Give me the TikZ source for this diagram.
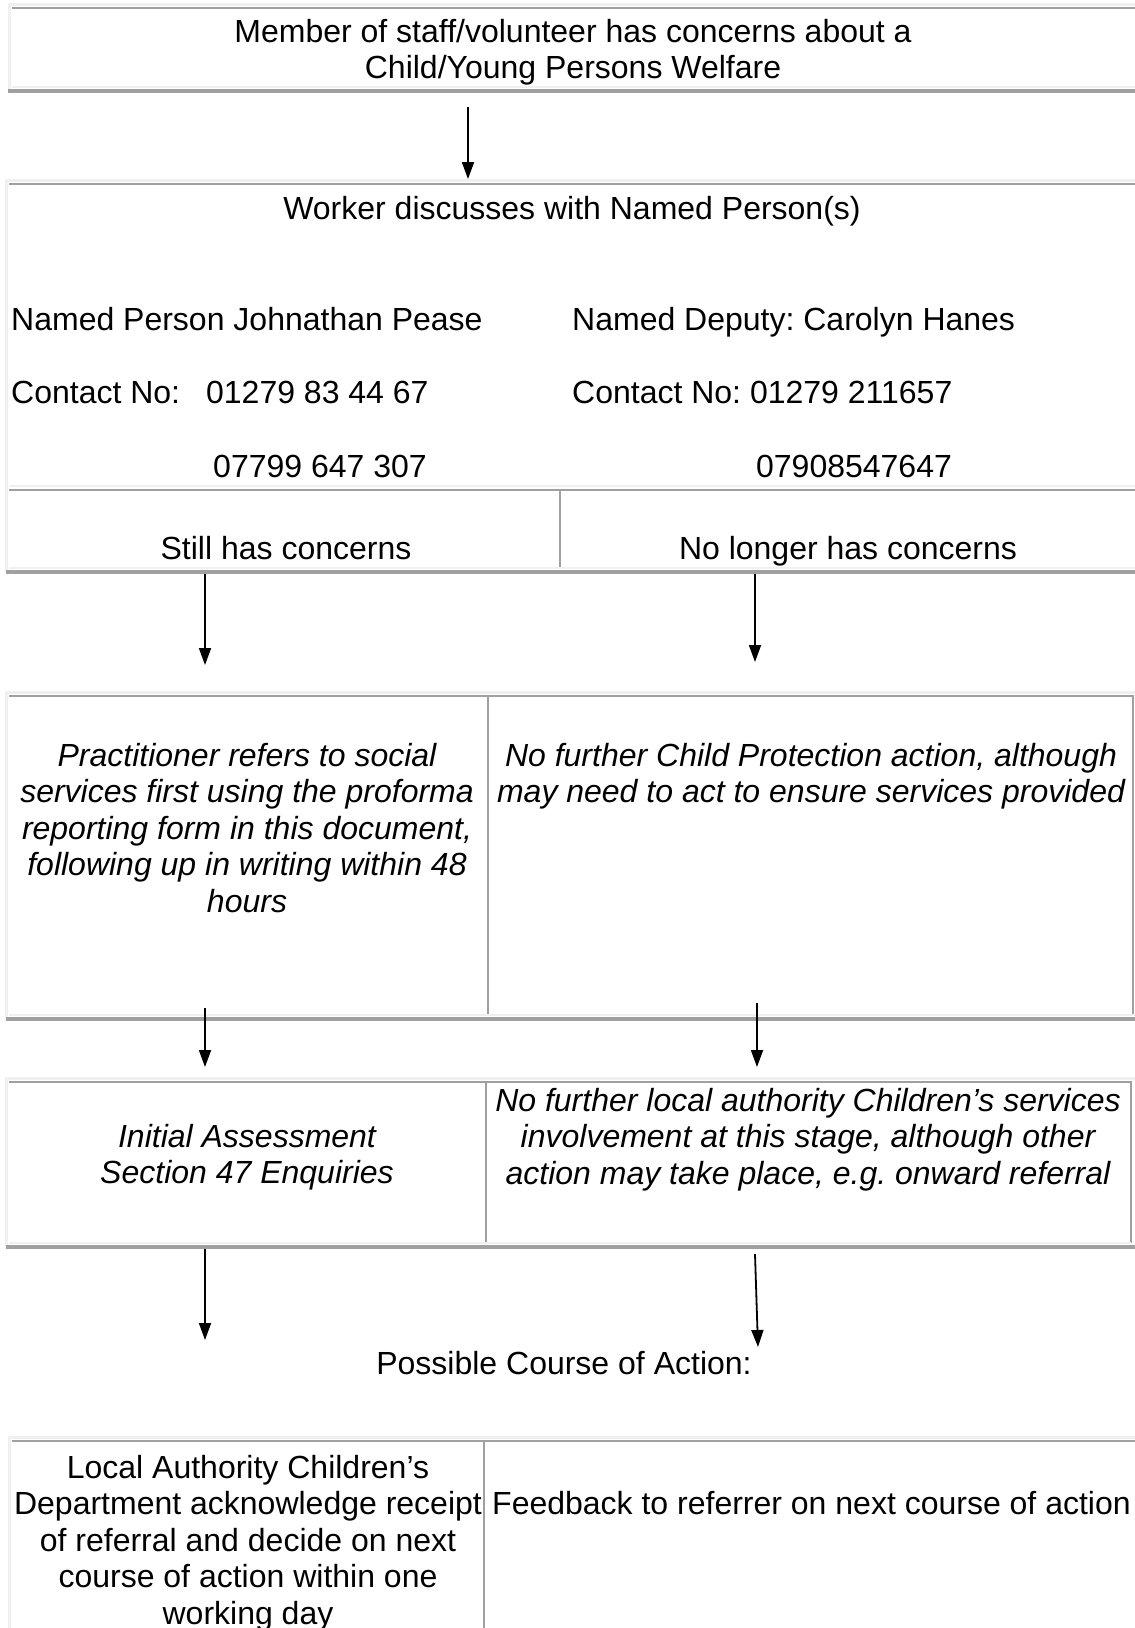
\documentclass[tikz,border=0pt]{standalone}
\usepackage{fontspec}
\setmainfont{Liberation Sans}
\usetikzlibrary{arrows.meta}
\definecolor{tablegray}{HTML}{A0A0A0}
\definecolor{tablelight}{HTML}{F0F0F0}
\frenchspacing

\begin{document}
\begin{tikzpicture}[x=1pt, y=-1pt, >={Triangle[width=12pt,length=17pt]},
  every node/.style={inner sep=0pt, font=\fontsize{32}{36.5}\selectfont},
  slant/.style={font=\fontsize{32}{36.5}\selectfont\itshape},
  outerline/.style={draw=tablelight, line width=3pt},
  cellline/.style={draw=tablegray, line width=1.5pt},
  bottomline/.style={draw=tablegray, line width=4pt},
  flow/.style={->, line width=1.8pt}]
\useasboundingbox (0,0) rectangle (1135,1628);

% first table: the concern
\draw[outerline] (9.5,91) |- (1135,4.5);
\draw[cellline] (12,8) -- (1135,8);
\draw[outerline, line width=2pt] (12,87) -- (1135,87);
\draw[bottomline] (8,91) -- (1135,91);
\node[anchor=base, align=center] (concern) at (573,78.5) {Member of staff/volunteer has concerns about a\\Child/Young Persons Welfare};

\coordinate (a1) at (468,107);
\coordinate (b1) at (468,179);
\draw[flow] (a1) -- (b1);

% second table: named persons
\draw[outerline] (6.5,488) |- (1135,180.5);
\draw[cellline] (9,184) -- (1135,184);
\draw[outerline, line width=2pt] (9,486) -- (1135,486);
\node[anchor=base] (worker) at (572,219) {Worker discusses with Named Person(s)};
\node[anchor=base west] (person) at (11,330) {Named Person Johnathan Pease};
\node[anchor=base west] (deputy) at (572,330) {Named Deputy: Carolyn Hanes};
\node[anchor=base west] (personno) at (11,403) {Contact No:\hspace{26pt}01279 83 44 67};
\node[anchor=base west] (deputyno) at (572,403) {Contact No: 01279 211657};
\node[anchor=base] (personmob) at (320,477) {07799 647 307};
\node[anchor=base] (deputymob) at (854,477) {07908547647};

% third table: still / no longer
\draw[outerline] (6.5,572) -- (6.5,488);
\draw[cellline] (9,490) -- (1135,490);
\draw[cellline] (560,490) -- (560,568);
\draw[outerline, line width=2pt] (9,568) -- (1135,568);
\draw[bottomline] (6,572) -- (1135,572);
\node[anchor=base] (still) at (286,559) {Still has concerns};
\node[anchor=base] (nolonger) at (848,559) {No longer has concerns};

\coordinate (a2) at (205,574);
\coordinate (b2) at (205,665);
\coordinate (a3) at (755,574);
\coordinate (b3) at (755,662);
\draw[flow] (a2) -- (b2);
\draw[flow] (a3) -- (b3);

% fourth table: referral
\draw[outerline] (6.5,1019) |- (1135,692.5);
\draw[cellline] (9,696) -- (1133,696) -- (1133,1015);
\draw[cellline] (488,696) -- (488,1015);
\draw[outerline, line width=2pt] (9,1015) -- (1135,1015);
\draw[bottomline] (6,1019) -- (1135,1019);
\node[slant, anchor=base, align=center] (refer) at (247,912) {Practitioner refers to social\\services first using the proforma\\reporting form in this document,\\following up in writing within 48\\hours};
\node[slant, anchor=base, align=center] (nofurther) at (811,802.5) {No further Child Protection action, although\\may need to act to ensure services provided};

\coordinate (a4) at (205,1008);
\coordinate (b4) at (205,1067);
\coordinate (a5) at (757,1003);
\coordinate (b5) at (757,1067);
\draw[flow] (a4) -- (b4);
\draw[flow] (a5) -- (b5);

% fifth table: assessment
\draw[outerline] (6.5,1247) |- (1135,1078.5);
\draw[cellline] (9,1082) -- (1131,1082) -- (1131,1243);
\draw[cellline] (486,1082) -- (486,1243);
\draw[outerline, line width=2pt] (9,1243) -- (1131,1243);
\draw[bottomline] (6,1247) -- (1135,1247);
\node[slant, anchor=base, align=center] (assess) at (247,1183.5) {Initial Assessment\\Section 47 Enquiries};
\node[slant, anchor=base, align=center] (nolocal) at (808,1184) {No further local authority Children’s services\\involvement at this stage, although other\\action may take place, e.g. onward referral};

\coordinate (a6) at (205,1249);
\coordinate (b6) at (205,1340);
\coordinate (a7) at (755,1254);
\coordinate (b7) at (758,1347);
\draw[flow] (a6) -- (b6);
\draw[flow] (a7) -- (b7);

\node[anchor=base] (possible) at (564,1374) {Possible Course of Action:};

% last table: course of action
\draw[outerline] (9.5,1628) |- (1135,1437.5);
\draw[cellline] (12,1441) -- (1135,1441);
\draw[cellline] (484,1441) -- (484,1628);
\node[anchor=base, align=center] (authority) at (248,1624) {Local Authority Children’s\\Department acknowledge receipt\\of referral and decide on next\\course of action within one\\working day};
\node[anchor=base west] (feedback) at (492,1514) {Feedback to referrer on next course of action};
\end{tikzpicture}
\end{document}
